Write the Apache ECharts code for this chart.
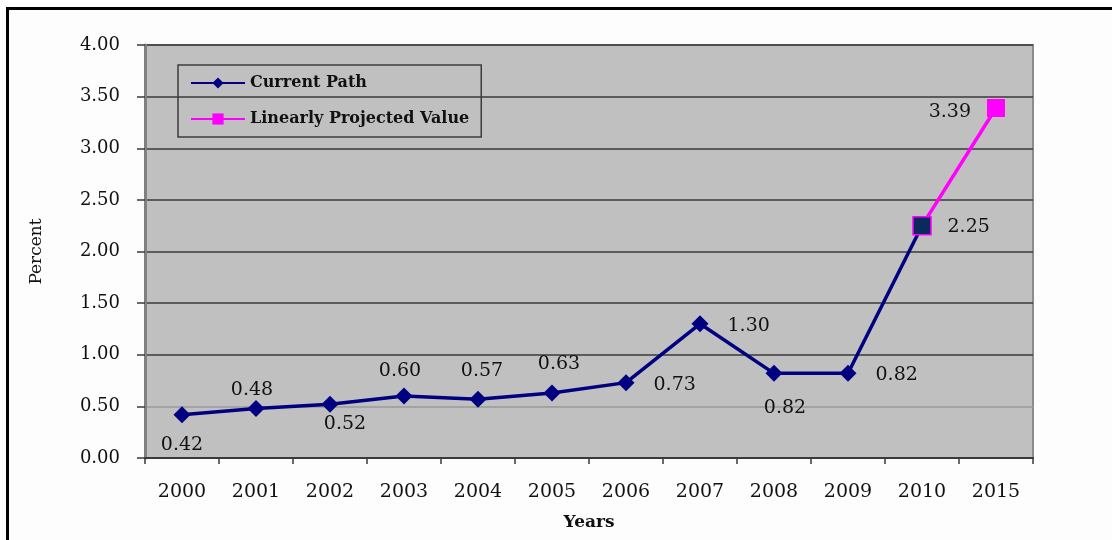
<!DOCTYPE html>
<html>
<head>
<meta charset="utf-8">
<script src="https://cdn.jsdelivr.net/npm/echarts@6/dist/echarts.min.js"></script>
<style>
  html, body { margin: 0; padding: 0; background: #fff; }
  #chart { width: 1112px; height: 540px; }
</style>
</head>
<body>
<div id="chart"></div>
<script>
  // chart data
  const years = ['2000', '2001', '2002', '2003', '2004', '2005', '2006', '2007', '2008', '2009', '2010', '2015'];
  const currentPath = [0.42, 0.48, 0.52, 0.60, 0.57, 0.63, 0.73, 1.30, 0.82, 0.82, 2.25, null];
  const projected = [null, null, null, null, null, null, null, null, null, null, 2.25, 3.39];

  // where each value label sits (style only)
  const curLabels = [
    { position: 'bottom', distance: 12, offset: [0, 0] },
    { position: 'top', distance: 0, offset: [-4, 0] },
    { position: 'bottom', distance: 2, offset: [15, 0] },
    { position: 'top', distance: 7, offset: [-4, 0] },
    { position: 'top', distance: 10, offset: [4, 0] },
    { position: 'top', distance: 11, offset: [7, 0] },
    { position: 'right', distance: 19, offset: [0, 2] },
    { position: 'right', distance: 19, offset: [0, 2] },
    { position: 'bottom', distance: 17, offset: [11, 0] },
    { position: 'right', distance: 19, offset: [0, 2] },
    { position: 'right', distance: 17, offset: [0, 1] },
    null
  ];

  const serif = 'DejaVu Serif';
  const labelFont = { fontFamily: serif, fontSize: 19, color: '#111' };

  let chart = echarts.init(document.getElementById('chart'));

  let curData = currentPath.map((v, i) => {
    let l = curLabels[i];
    if (v === null) return null;
    return {
      value: v,
      label: Object.assign({ show: true, formatter: p => p.value.toFixed(2) }, labelFont, l)
    };
  });

  let projData = projected.map((v, i) => {
    if (v === null) return null;
    if (i === years.length - 1) {
      return {
        value: v,
        label: Object.assign({ show: true, position: 'left', distance: 16, offset: [0, 4], formatter: p => p.value.toFixed(2) }, labelFont)
      };
    }
    // the joining point keeps the dark fill of the current path
    return { value: v, itemStyle: { color: '#0b2a5c', borderColor: '#ff00ff', borderWidth: 1.5 } };
  });

  chart.setOption({
    animation: false,
    backgroundColor: '#fdfdfd',
    graphic: [{
      type: 'rect',
      left: 5, top: 6,
      shape: { width: 1200, height: 600 },
      style: { fill: 'none', stroke: '#000', lineWidth: 3 },
      silent: true
    }],
    grid: {
      left: 145, right: 79, top: 45, bottom: 82,
      show: true,
      backgroundColor: '#c0c0c0',
      borderColor: '#8c8c8c',
      borderWidth: 2,
      outerBoundsMode: 'none'
    },
    legend: {
      orient: 'vertical',
      left: 178, top: 65,
      padding: [10, 12, 10, 12],
      itemGap: 20,
      itemWidth: 54,
      itemHeight: 14,
      borderColor: '#3c3c3c',
      borderWidth: 1.5,
      textStyle: { fontFamily: serif, fontSize: 16, fontWeight: 'bold', color: '#111' },
      data: ['Current Path', 'Linearly Projected Value']
    },
    xAxis: {
      type: 'category',
      data: years,
      boundaryGap: true,
      name: 'Years',
      nameLocation: 'middle',
      nameGap: 56,
      nameTextStyle: { fontFamily: serif, fontSize: 17, fontWeight: 'bold', color: '#111' },
      axisLine: { lineStyle: { color: '#3a3a3a', width: 2 } },
      axisTick: { show: true, length: 6, alignWithLabel: false, lineStyle: { color: '#3a3a3a', width: 1.5 } },
      axisLabel: { fontFamily: serif, fontSize: 19, color: '#111', margin: 25 }
    },
    yAxis: {
      type: 'value',
      min: 0, max: 4, interval: 0.5,
      name: 'Percent',
      nameLocation: 'middle',
      nameGap: 100,
      nameTextStyle: { fontFamily: serif, fontSize: 17, color: '#111' },
      axisLine: { show: true, lineStyle: { color: '#808080', width: 3 } },
      axisTick: { show: true, inside: false, length: 8, lineStyle: { color: '#3a3a3a', width: 1.5 } },
      axisLabel: { fontFamily: serif, fontSize: 18, color: '#111', margin: 25, formatter: v => v.toFixed(2) },
      splitLine: {
        lineStyle: {
          color: ['#3a3a3a', '#9a9a9a', '#3a3a3a', '#3a3a3a', '#3a3a3a', '#3a3a3a', '#3a3a3a', '#3a3a3a', '#3a3a3a'],
          width: 1.5
        }
      }
    },
    series: [
      {
        name: 'Current Path',
        type: 'line',
        data: curData,
        symbol: 'diamond',
        symbolSize: 17,
        showAllSymbol: true,
        lineStyle: { color: '#000080', width: 3.5 },
        itemStyle: { color: '#000080' },
        z: 2
      },
      {
        name: 'Linearly Projected Value',
        type: 'line',
        data: projData,
        symbol: 'rect',
        symbolSize: 18,
        lineStyle: { color: '#ff00ff', width: 3.5 },
        itemStyle: { color: '#ff00ff' },
        z: 3
      }
    ]
  });
</script>
</body>
</html>
